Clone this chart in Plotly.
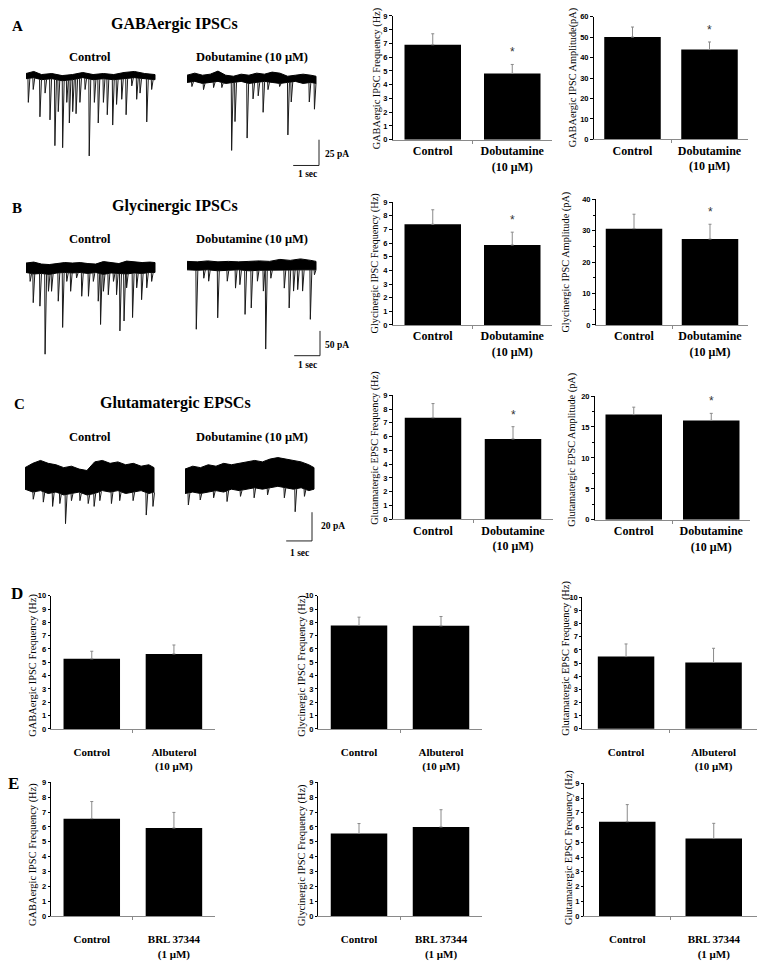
import numpy as np
import plotly.graph_objects as go

W, H = 764, 965
SERIF = "Liberation Serif"
SANS = "Liberation Sans"

# ------------------------------------------------------------------ data
cats_dob = ["Control", "Dobutamine<br>(10 μM)"]
cats_alb = ["Control", "Albuterol<br>(10 μM)"]
cats_brl = ["Control", "BRL 37344<br>(1 μM)"]

gaba_freq_dob = [6.90, 4.82]
gaba_freq_dob_err = [0.80, 0.65]
gaba_amp_dob = [50.0, 43.9]
gaba_amp_dob_err = [4.9, 3.7]
gly_freq_dob = [7.38, 5.86]
gly_freq_dob_err = [1.06, 0.94]
gly_amp_dob = [30.7, 27.4]
gly_amp_dob_err = [4.6, 4.7]
glu_freq_dob = [7.37, 5.83]
glu_freq_dob_err = [1.03, 0.89]
glu_amp_dob = [17.0, 16.06]
glu_amp_dob_err = [1.2, 1.14]

gaba_freq_alb = [5.26, 5.63]
gaba_freq_alb_err = [0.57, 0.67]
gly_freq_alb = [7.77, 7.74]
gly_freq_alb_err = [0.62, 0.70]
glu_freq_alb = [5.50, 5.05]
glu_freq_alb_err = [0.96, 1.08]

gaba_freq_brl = [6.56, 5.93]
gaba_freq_brl_err = [1.15, 1.05]
gly_freq_brl = [5.56, 6.00]
gly_freq_brl_err = [0.67, 1.16]
glu_freq_brl = [6.40, 5.26]
glu_freq_brl_err = [1.16, 1.03]

# example recordings: baseline noise envelope (s, pA) and events (s, amplitude pA)
gaba_ctrl_env_t = [0, 0.3, 0.6, 1.0, 1.4, 1.8, 2.2, 2.6, 3.0, 3.4, 3.8, 4.2, 4.6, 5.0]
gaba_ctrl_env_up = [3, 5, 2, 3, 1, 2, 4, 2, 3, 2, 4, 5, 3, 2]
gaba_ctrl_env_lo = [-2, -1, -3, -2, -4, -3, -1, -3, -2, -3, -2, -1, -2, -3]
gaba_ctrl_ev_t = [0.09, 0.28, 0.54, 0.74, 0.93, 1.12, 1.25, 1.42, 1.58, 1.68, 1.81, 1.94, 2.09, 2.29,
                  2.45, 2.65, 2.80, 3.00, 3.15, 3.36, 3.51, 3.71, 3.88, 4.10, 4.29, 4.42, 4.68, 4.87]
gaba_ctrl_ev_a = [25, 12.5, 39, 16, 42, 67, 34, 69, 25, 45, 34, 36, 25, 12.5,
                  77, 25, 45, 25, 37, 47, 27, 22, 37, 9, 22, 16, 44, 12.5]

gaba_dob_env_t = [0, 0.3, 0.6, 0.9, 1.2, 1.5, 1.8, 2.1, 2.4, 2.7, 3.0, 3.3, 3.6, 3.9, 4.2, 4.5, 4.8, 5.0]
gaba_dob_env_up = [3, 5, 3, 4, 7, 3, 2, 4, 3, 5, 4, 6, 5, 2, 3, 4, 3, 2]
gaba_dob_env_lo = [-4, -3, -5, -4, -3, -5, -4, -3, -5, -4, -3, -4, -5, -4, -3, -5, -4, -5]
gaba_dob_ev_t = [0.19, 0.64, 1.03, 1.35, 1.73, 1.86, 2.33, 2.56, 2.76, 2.95, 3.14, 3.59, 3.91, 4.04, 4.74, 4.94]
gaba_dob_ev_a = [8, 11, 9, 9, 70, 42, 58, 20, 17, 33, 11, 8, 55, 23, 23, 30]

gly_ctrl_env_t = [0, 0.3, 0.6, 0.9, 1.2, 1.5, 1.8, 2.1, 2.4, 2.7, 3.0, 3.3, 3.6, 3.9, 4.2, 4.5, 4.8, 5.0]
gly_ctrl_env_up = [7, 9, 5, 4, 6, 8, 7, 8, 6, 5, 10, 8, 6, 11, 10, 8, 9, 8]
gly_ctrl_env_lo = [-12, -15, -14, -16, -13, -12, -13, -12, -14, -12, -16, -13, -14, -15, -13, -14, -12, -12]
gly_ctrl_ev_t = [0.16, 0.28, 0.54, 0.74, 0.87, 0.99, 1.25, 1.42, 1.58, 1.73, 1.96, 2.16, 2.42, 2.61,
                 2.80, 2.89, 3.00, 3.19, 3.39, 3.51, 3.64, 3.80, 3.90, 4.13, 4.29, 4.48, 4.68, 4.87]
gly_ctrl_ev_a = [30, 73, 80, 177, 50, 50, 70, 123, 30, 50, 23, 60, 60, 30,
                 70, 117, 50, 57, 30, 57, 130, 110, 43, 103, 43, 67, 43, 30]

gly_dob_env_t = [0, 0.4, 0.8, 1.2, 1.6, 2.0, 2.4, 2.8, 3.2, 3.6, 4.0, 4.4, 4.8, 5.0]
gly_dob_env_up = [7, 6, 8, 6, 7, 6, 7, 8, 7, 11, 9, 12, 9, 7]
gly_dob_env_lo = [-10, -11, -10, -12, -11, -10, -12, -11, -10, -11, -10, -11, -10, -10]
gly_dob_ev_t = [0.36, 0.65, 0.84, 1.19, 1.56, 1.88, 2.05, 2.25, 2.49, 2.73, 2.96, 3.05, 3.25, 3.77,
                3.96, 4.13, 4.29, 4.48, 4.78, 4.94]
gly_dob_ev_a = [130, 27, 33, 107, 33, 47, 40, 100, 87, 33, 53, 170, 27, 47, 87, 53, 50, 53, 110, 20]

glu_ctrl_env_t = [0, 0.3, 0.6, 0.9, 1.2, 1.5, 1.8, 2.1, 2.4, 2.7, 3.0, 3.3, 3.6, 3.9, 4.2, 4.5, 4.8, 5.0]
glu_ctrl_env_up = [6, 9, 11, 9, 8, 6, 7, 5, 4, 10, 11, 9, 10, 8, 9, 7, 8, 6]
glu_ctrl_env_lo = [-9, -11, -10, -12, -11, -13, -12, -11, -13, -12, -10, -11, -10, -12, -11, -10, -12, -11]
glu_ctrl_ev_t = [0.32, 0.71, 1.07, 1.35, 1.57, 1.80, 2.13, 2.45, 2.68, 2.90, 3.35, 3.67, 4.19, 4.70, 4.96]
glu_ctrl_ev_a = [16, 18, 21, 19, 33, 17, 17, 19, 21, 17, 19, 17, 17, 27, 21]

glu_dob_env_t = [0, 0.3, 0.6, 0.9, 1.2, 1.5, 1.8, 2.1, 2.4, 2.7, 3.0, 3.3, 3.6, 3.9, 4.2, 4.5, 4.8, 5.0]
glu_dob_env_up = [5, 7, 6, 8, 7, 9, 8, 9, 10, 11, 10, 12, 13, 12, 11, 10, 8, 6]
glu_dob_env_lo = [-12, -11, -12, -11, -10, -11, -9, -10, -9, -8, -9, -8, -7, -8, -9, -8, -10, -9]
glu_dob_ev_t = [0.13, 0.59, 1.11, 1.63, 2.15, 2.68, 3.20, 3.85, 4.27, 4.63]
glu_dob_ev_a = [20, 16.5, 15, 17.6, 14, 15, 13, 15, 24.7, 14]

# ------------------------------------------------------------------ helpers
def fx(px):
    return px / W


def fy(py):
    return 1 - py / H


fig = go.Figure()
layout = dict(width=W, height=H, margin=dict(l=0, r=0, t=0, b=0), autosize=False,
              paper_bgcolor="white", plot_bgcolor="white", showlegend=False)
annotations = []
shapes = []
counter = [0]


def new_axes(x0, x1, y0, y1):
    counter[0] += 1
    n = counter[0]
    s = "" if n == 1 else str(n)
    xa = dict(domain=[fx(x0), fx(x1)], anchor="y" + s, fixedrange=True)
    ya = dict(domain=[fy(y1), fy(y0)], anchor="x" + s, fixedrange=True)
    layout["xaxis" + s] = xa
    layout["yaxis" + s] = ya
    return "x" + s, "y" + s, xa, ya


def bold(s):
    return "<b>" + s.replace("<br>", "</b><br><b>") + "</b>"


def bar_panel(vals, errs, cats, ytitle, ymax, dtick, box, title_pos, small=False, star=False, minor=None):
    x0, x1, ytop, ybot = box
    xr, yr, xa, ya = new_axes(x0, x1, ytop, ybot)
    bw = 56.5 / ((x1 - x0) / 2.0)
    fig.add_trace(go.Bar(
        x=[0, 1], y=vals, width=bw,
        marker=dict(color="black", line=dict(width=0)),
        error_y=dict(type="data", symmetric=False, array=errs, arrayminus=[0, 0],
                     color="#8a8a8a", thickness=1, width=1.5),
        xaxis=xr, yaxis=yr, hoverinfo="skip"))
    xa.update(range=[-0.5, 1.5], tickmode="array", tickvals=[0, 1], ticktext=[bold(c) for c in cats],
              ticks="", showline=True, linecolor="#8a8a8a", linewidth=1,
              showgrid=False, zeroline=False,
              ticklabelstandoff=(13 if small else 0),
              tickfont=dict(family=SERIF, size=(11 if small else 12), color="black"),
              minor=dict(tickmode="array", tickvals=[0.5], ticks="outside", ticklen=3,
                         tickcolor="#8a8a8a", showgrid=False))
    ya.update(range=[0, ymax], dtick=dtick, tick0=0, ticks="outside", ticklen=(2 if small else 3),
              tickwidth=1, tickcolor="black", showline=True, linecolor="black", linewidth=1,
              showgrid=False, zeroline=False,
              tickfont=dict(family=SANS, size=7.5, color="black", weight="bold"))
    if minor:
        ya["minor"] = dict(dtick=minor, ticks="outside", ticklen=2, tickcolor="black", showgrid=False)
    # y-axis title
    annotations.append(dict(xref="paper", yref="paper", x=fx(title_pos[0]), y=fy(title_pos[1]),
                            text=ytitle, textangle=-90, showarrow=False,
                            xanchor="center", yanchor="middle",
                            font=dict(family=SERIF, size=(10.4 if small else 10.3), color="black")))
    if star:
        annotations.append(dict(xref=xr, yref=yr, x=1, y=vals[1] + errs[1], text="*",
                                showarrow=False, yanchor="bottom", yshift=3,
                                font=dict(family=SANS, size=12, color="#333")))


def trace_panel(env_t, env_up, env_lo, ev_t, ev_a, start_px, end_px, base_py, top_py, bot_py, kx, ky,
                scalebar=None):
    xr, yr, xa, ya = new_axes(start_px, end_px, top_py, bot_py)
    xa.update(visible=False, range=[0, (end_px - start_px) / kx])
    ya.update(visible=False, range=[-(bot_py - base_py) / ky, (base_py - top_py) / ky])
    fig.add_trace(go.Scatter(x=list(env_t) + list(env_t)[::-1], y=list(env_up) + list(env_lo)[::-1],
                             fill="toself", fillcolor="black", mode="lines",
                             line=dict(color="black", width=1), xaxis=xr, yaxis=yr, hoverinfo="skip"))
    xs, ys = [], []
    for t, a in zip(ev_t, ev_a):
        lo = float(np.interp(t, env_t, env_lo))
        xs += [t - 0.015, t, t + 0.06, None]
        ys += [lo, -a, lo, None]
    fig.add_trace(go.Scatter(x=xs, y=ys, mode="lines", line=dict(color="#1a1a1a", width=1),
                             xaxis=xr, yaxis=yr, hoverinfo="skip"))
    if scalebar:
        right_px, bottom_px, sec, pa = scalebar
        tR = (right_px - start_px) / kx
        yB = -(bottom_px - base_py) / ky
        shapes.append(dict(type="line", xref=xr, yref=yr, x0=tR - sec, x1=tR, y0=yB, y1=yB,
                           line=dict(color="#222", width=1)))
        shapes.append(dict(type="line", xref=xr, yref=yr, x0=tR, x1=tR, y0=yB, y1=yB + pa,
                           line=dict(color="#222", width=1)))


def text(px, py, s, size, family=SERIF, xanchor="center"):
    annotations.append(dict(xref="paper", yref="paper", x=fx(px), y=fy(py), text=bold(s),
                            showarrow=False, xanchor=xanchor, yanchor="middle",
                            font=dict(family=family, size=size, color="black")))


# ------------------------------------------------------------------ traces (A-C, left)
KX = 25.8
trace_panel(gaba_ctrl_env_t, gaba_ctrl_env_up, gaba_ctrl_env_lo, gaba_ctrl_ev_t, gaba_ctrl_ev_a,
            26, 156, 73.3, 55, 166, KX, 1.04)
trace_panel(gaba_dob_env_t, gaba_dob_env_up, gaba_dob_env_lo, gaba_dob_ev_t, gaba_dob_ev_a,
            187, 322, 75, 55, 166, KX, 1.04, scalebar=(319, 163, 1, 25))
trace_panel(gly_ctrl_env_t, gly_ctrl_env_up, gly_ctrl_env_lo, gly_ctrl_ev_t, gly_ctrl_ev_a,
            26, 156, 265, 240, 358, KX, 0.5)
trace_panel(gly_dob_env_t, gly_dob_env_up, gly_dob_env_lo, gly_dob_ev_t, gly_dob_ev_a,
            187, 323, 263.3, 240, 358, KX, 0.5, scalebar=(320, 355, 1, 50))
trace_panel(glu_ctrl_env_t, glu_ctrl_env_up, glu_ctrl_env_lo, glu_ctrl_ev_t, glu_ctrl_ev_a,
            25, 155, 476.7, 445, 545, KX, 1.45)
trace_panel(glu_dob_env_t, glu_dob_env_up, glu_dob_env_lo, glu_dob_ev_t, glu_dob_ev_a,
            185, 315, 476.7, 445, 545, KX, 1.45, scalebar=(312, 542, 1, 20))

# ------------------------------------------------------------------ bar charts A-C
bar_panel(gaba_freq_dob, gaba_freq_dob_err, cats_dob, "GABAergic IPSC Frequency (Hz)", 9, 1,
          (393, 552, 12, 137), (377, 76), star=True)
bar_panel(gaba_amp_dob, gaba_amp_dob_err, cats_dob, "GABAergic IPSC Amplitude(pA)", 60, 10,
          (594, 748, 12.7, 136.7), (573, 75), star=True)
bar_panel(gly_freq_dob, gly_freq_dob_err, cats_dob, "Glycinergic IPSC Frequency (Hz)", 9, 1,
          (393, 552, 200, 324), (375, 262), star=True)
bar_panel(gly_amp_dob, gly_amp_dob_err, cats_dob, "Glycinergic IPSC Amplitude (pA)", 40, 10,
          (596, 748, 197.3, 324), (566, 261), star=True, minor=5)
bar_panel(glu_freq_dob, glu_freq_dob_err, cats_dob, "Glutamatergic EPSC Frequency (Hz)", 9, 1,
          (393, 553, 395, 520), (375, 449), star=True)
bar_panel(glu_amp_dob, glu_amp_dob_err, cats_dob, "Glutamatergic EPSC Amplitude (pA)", 20, 5,
          (595, 750, 395.7, 520.7), (572, 450), star=True, minor=2.5)

# ------------------------------------------------------------------ bar charts D, E
bar_panel(gaba_freq_alb, gaba_freq_alb_err, cats_alb, "GABAergic IPSC Frequency (Hz)", 10, 1,
          (50.7, 215, 597.3, 731.7), (33, 668), small=True)
bar_panel(gly_freq_alb, gly_freq_alb_err, cats_alb, "Glycinergic IPSC Frequency (Hz)", 10, 1,
          (318, 482, 597.3, 731.7), (302, 668), small=True)
bar_panel(glu_freq_alb, glu_freq_alb_err, cats_alb, "Glutamatergic EPSC Frequency (Hz)", 10, 1,
          (582.3, 757.3, 599, 731.7), (566, 661), small=True)
bar_panel(gaba_freq_brl, gaba_freq_brl_err, cats_brl, "GABAergic IPSC Frequency (Hz)", 9, 1,
          (50.7, 215, 785.7, 920.7), (33, 859), small=True)
bar_panel(gly_freq_brl, gly_freq_brl_err, cats_brl, "Glycinergic IPSC Frequency (Hz)", 9, 1,
          (318, 482, 785.7, 920.7), (302, 859), small=True)
bar_panel(glu_freq_brl, glu_freq_brl_err, cats_brl, "Glutamatergic EPSC Frequency (Hz)", 9, 1,
          (584, 757, 786.7, 920.7), (569, 852), small=True)

# ------------------------------------------------------------------ labels
text(17, 22, "A", 15)
text(174, 20, "GABAergic IPSCs", 16)
text(90, 53, "Control", 12.5)
text(252, 53, "Dobutamine (10 μM)", 12.5)
text(337, 151, "25 pA", 9.5)
text(307, 172, "1 sec", 9.5)

text(17, 206, "B", 15)
text(175, 204, "Glycinergic IPSCs", 16)
text(90, 237, "Control", 12.5)
text(252, 237, "Dobutamine (10 μM)", 12.5)
text(337, 344, "50 pA", 9.5)
text(307, 364, "1 sec", 9.5)

text(19, 404, "C", 15)
text(175, 403, "Glutamatergic EPSCs", 16)
text(90, 437, "Control", 12.5)
text(252, 437, "Dobutamine (10 μM)", 12.5)
text(333, 527, "20 pA", 9.5)
text(299, 554, "1 sec", 9.5)

text(17, 595, "D", 17)
text(13, 787, "E", 17)

layout["annotations"] = annotations
layout["shapes"] = shapes
fig.update_layout(**layout)
fig.write_html("out.html", config={"displayModeBar": False},
               post_script="document.body.style.margin='0';document.body.style.overflow='hidden';")
